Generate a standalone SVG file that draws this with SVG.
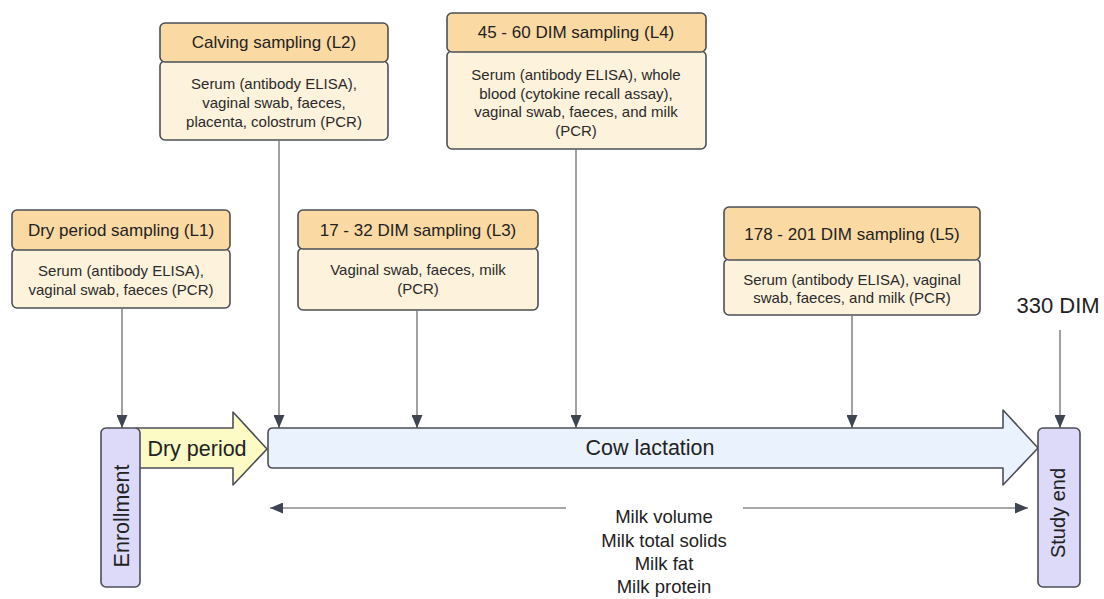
<svg xmlns="http://www.w3.org/2000/svg" width="1104" height="599" viewBox="0 0 1104 599">
<style>
.hdr{fill:#fbd9a3;stroke:#4b4f55;stroke-width:1.6}
.bdy{fill:#fdf2dc;stroke:#4b4f55;stroke-width:1.6}
.ht{font-family:"Liberation Sans",Arial,sans-serif;font-size:17px;fill:#222;text-anchor:middle}
.bt{font-family:"Liberation Sans",Arial,sans-serif;font-size:15px;fill:#2a2a2a;text-anchor:middle}
.big{font-family:"Liberation Sans",Arial,sans-serif;font-size:21.5px;fill:#222;text-anchor:middle}
.mt{font-family:"Liberation Sans",Arial,sans-serif;font-size:18.5px;fill:#222;text-anchor:middle}
.con{stroke:#8a8a8a;stroke-width:1.6;fill:none}
.end{fill:#dcdaf8;stroke:#4b4f55;stroke-width:1.6}
</style>
<defs>
<marker id="ah" markerUnits="userSpaceOnUse" markerWidth="13" markerHeight="11" refX="13" refY="5.5" orient="auto">
<path d="M0,0 L13,5.5 L0,11 z" fill="#3f4550"/>
</marker>
<marker id="ahs" markerUnits="userSpaceOnUse" markerWidth="13" markerHeight="11" refX="0" refY="5.5" orient="auto">
<path d="M13,0 L0,5.5 L13,11 z" fill="#3f4550"/>
</marker>
</defs>

<g id="connectors">
<line class="con" x1="122" y1="309" x2="122" y2="428" marker-end="url(#ah)"/>
<line class="con" x1="279" y1="141" x2="279" y2="428" marker-end="url(#ah)"/>
<line class="con" x1="417" y1="311" x2="417" y2="428" marker-end="url(#ah)"/>
<line class="con" x1="576" y1="150" x2="576" y2="428" marker-end="url(#ah)"/>
<line class="con" x1="852" y1="316" x2="852" y2="428" marker-end="url(#ah)"/>
<line class="con" x1="1060" y1="330" x2="1060" y2="428" marker-end="url(#ah)"/>
<line class="con" x1="566" y1="508" x2="270" y2="508" marker-end="url(#ah)"/>
<line class="con" x1="743" y1="508" x2="1028" y2="508" marker-end="url(#ah)"/>
</g>

<g id="L1">
<rect class="bdy" x="12" y="249" width="218" height="59" rx="5"/>
<rect class="hdr" x="12" y="210" width="218" height="40" rx="5"/>
<text class="ht" x="121" y="236">Dry period sampling (L1)</text>
<text class="bt" x="121" y="276">Serum (antibody ELISA),</text>
<text class="bt" x="121" y="295">vaginal swab, faeces (PCR)</text>
</g>

<g id="L2">
<rect class="bdy" x="160" y="61" width="228" height="79" rx="5"/>
<rect class="hdr" x="160" y="23" width="228" height="39" rx="5"/>
<text class="ht" x="274" y="48">Calving sampling (L2)</text>
<text class="bt" x="274" y="89">Serum (antibody ELISA),</text>
<text class="bt" x="274" y="108">vaginal swab, faeces,</text>
<text class="bt" x="274" y="127">placenta, colostrum (PCR)</text>
</g>

<g id="L3">
<rect class="bdy" x="298" y="248" width="240" height="62" rx="5"/>
<rect class="hdr" x="298" y="210" width="240" height="39" rx="5"/>
<text class="ht" x="418" y="236">17 - 32 DIM sampling (L3)</text>
<text class="bt" x="418" y="275">Vaginal swab, faeces, milk</text>
<text class="bt" x="418" y="294">(PCR)</text>
</g>

<g id="L4">
<rect class="bdy" x="447" y="51" width="259" height="98" rx="5"/>
<rect class="hdr" x="447" y="13" width="259" height="39" rx="5"/>
<text class="ht" x="576" y="38">45 - 60 DIM sampling (L4)</text>
<text class="bt" x="576" y="80">Serum (antibody ELISA), whole</text>
<text class="bt" x="576" y="98.5">blood (cytokine recall assay),</text>
<text class="bt" x="576" y="117">vaginal swab, faeces, and milk</text>
<text class="bt" x="576" y="135.5">(PCR)</text>
</g>

<g id="L5">
<rect class="bdy" x="724" y="259" width="256" height="56" rx="5"/>
<rect class="hdr" x="724" y="207" width="256" height="53" rx="5"/>
<text class="ht" x="852" y="240">178 - 201 DIM sampling (L5)</text>
<text class="bt" x="852" y="285">Serum (antibody ELISA), vaginal</text>
<text class="bt" x="852" y="303">swab, faeces, and milk (PCR)</text>
</g>

<g id="dry-period">
<path d="M136,428 L233,428 L233,412 L267,449 L233,485 L233,468 L136,468 Z" fill="#fcfbc6" stroke="#4b4f55" stroke-width="1.6" stroke-linejoin="round"/>
<text class="big" x="197" y="456">Dry period</text>
</g>

<g id="lactation">
<path d="M273,428 L1003,428 L1003,410 L1038,448 L1003,485 L1003,468 L273,468 Q268,468 268,463 L268,433 Q268,428 273,428 Z" fill="#eaf3fd" stroke="#4b4f55" stroke-width="1.6" stroke-linejoin="round"/>
<text class="big" x="650" y="455">Cow lactation</text>
</g>

<g id="enrollment">
<rect class="end" x="101" y="428" width="39" height="159" rx="5"/>
<text class="big" transform="translate(128.5,516) rotate(-90)" x="0" y="0">Enrollment</text>
</g>

<g id="study-end">
<rect class="end" x="1038" y="428" width="42" height="159" rx="5"/>
<text class="big" style="font-size:20px" transform="translate(1065,513) rotate(-90)" x="0" y="0">Study end</text>
</g>

<g id="dim330">
<text class="big" style="font-size:22px" x="1058" y="313">330 DIM</text>
</g>

<g id="milk">
<text class="mt" x="664" y="523">Milk volume</text>
<text class="mt" x="664" y="547">Milk total solids</text>
<text class="mt" x="664" y="570">Milk fat</text>
<text class="mt" x="664" y="593">Milk protein</text>
</g>
</svg>
